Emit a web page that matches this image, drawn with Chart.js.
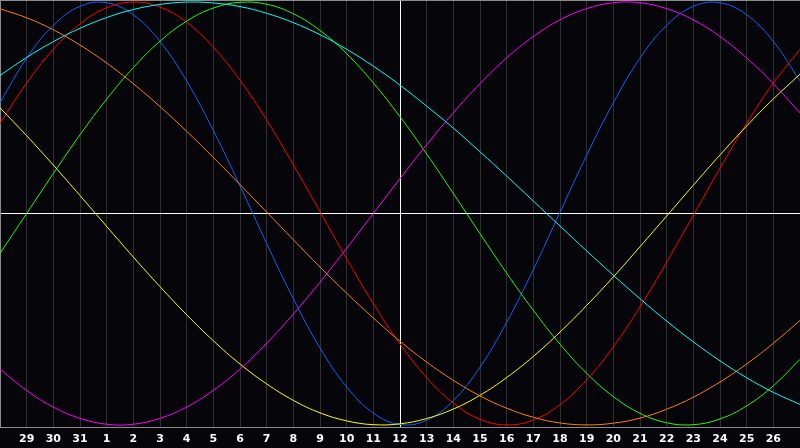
<!DOCTYPE html>
<html>
<head>
<meta charset="utf-8">
<script src="https://cdn.jsdelivr.net/npm/chart.js@4/dist/chart.umd.min.js"></script>
<style>
    html, body { margin: 0; padding: 0; background: #060509; }
    #wrap { width: 800px; height: 448px; }
</style>
</head>
<body>
<div id="wrap"><canvas id="bioChart"></canvas></div>
<script>
// day labels, first and last are not printed
var Days = ['28', '29', '30', '31', '1', '2', '3', '4', '5', '6', '7', '8', '9', '10', '11', '12',
    '13', '14', '15', '16', '17', '18', '19', '20', '21', '22', '23', '24', '25', '26', '27'];

var Physical = [0.524, 0.735, 0.890, 0.980, 0.997, 0.940, 0.814, 0.627, 0.393, 0.131, -0.142, -0.403, -0.636, -0.820, -0.944, -0.998,
    -0.978, -0.885, -0.727, -0.515, -0.265, 0.006, 0.275, 0.524, 0.735, 0.890, 0.980, 0.997, 0.940, 0.814, 0.627];
var Emotional = [0.426, 0.617, 0.776, 0.897, 0.973, 1.000, 0.977, 0.905, 0.787, 0.631, 0.442, 0.231, 0.009, -0.214, -0.426, -0.617,
    -0.776, -0.897, -0.973, -1.000, -0.977, -0.905, -0.787, -0.631, -0.442, -0.231, -0.009, 0.214, 0.426, 0.617, 0.776];
var Intellectual = [-0.189, 0.000, 0.189, 0.372, 0.541, 0.690, 0.815, 0.910, 0.972, 0.999, 0.990, 0.945, 0.866, 0.756, 0.618, 0.458,
    0.282, 0.095, -0.095, -0.282, -0.458, -0.618, -0.756, -0.866, -0.945, -0.990, -0.999, -0.972, -0.910, -0.815, -0.690];
var Intuitive = [-0.736, -0.837, -0.916, -0.969, -0.997, -0.997, -0.969, -0.916, -0.837, -0.736, -0.614, -0.476, -0.325, -0.165, 0.000, 0.165,
    0.325, 0.476, 0.614, 0.736, 0.837, 0.916, 0.969, 0.997, 0.997, 0.969, 0.916, 0.837, 0.736, 0.614, 0.476];
var Aesthetic = [0.500, 0.368, 0.229, 0.085, -0.061, -0.206, -0.346, -0.479, -0.602, -0.712, -0.806, -0.884, -0.943, -0.981, -0.999, -0.995,
    -0.970, -0.925, -0.860, -0.776, -0.676, -0.561, -0.435, -0.300, -0.157, -0.012, 0.134, 0.277, 0.414, 0.542, 0.659];
var Awareness = [0.968, 0.926, 0.869, 0.797, 0.712, 0.614, 0.506, 0.389, 0.265, 0.137, 0.007, -0.124, -0.253, -0.377, -0.494, -0.604,
    -0.703, -0.789, -0.863, -0.921, -0.964, -0.991, -1.000, -0.992, -0.968, -0.926, -0.869, -0.797, -0.712, -0.614, -0.506];
var Spiritual = [0.653, 0.738, 0.813, 0.876, 0.927, 0.965, 0.989, 1.000, 0.996, 0.979, 0.947, 0.903, 0.846, 0.777, 0.697, 0.607,
    0.508, 0.404, 0.292, 0.177, 0.059, -0.059, -0.177, -0.292, -0.403, -0.509, -0.607, -0.697, -0.777, -0.846, -0.903];

var YMin = -1.01;
var YMax = 1.01;

function series(data, color) {
    return {
        data: data,
        borderColor: color,
        borderWidth: 1,
        pointRadius: 0,
        fill: false,
        tension: 0.4
    };
}

var ctx = document.getElementById('bioChart').getContext('2d');
var bioChart = new Chart(ctx, {
    type: 'line',
    data: {
        labels: Days,
        datasets: [
            series(Spiritual, '#00ffff'),
            series(Awareness, '#ff8000'),
            series(Aesthetic, '#ffff00'),
            series(Intuitive, '#ff00ff'),
            series(Intellectual, '#20ff00'),
            series(Emotional, '#ff0000'),
            series(Physical, '#0a64ff')
        ]
    },
    options: {
        responsive: true,
        maintainAspectRatio: false,
        animation: false,
        layout: { padding: 0 },
        plugins: {
            legend: { display: false },
            tooltip: { enabled: false }
        },
        scales: {
            x: {
                offset: false,
                afterFit: function (axis) {
                    // leave 21px under the plot for the day numbers
                    axis.height = 21;
                },
                grid: {
                    drawTicks: false,
                    color: function (c) { return c.index === 15 ? '#ffffff' : '#303033'; }
                },
                border: { display: true, color: '#8c8c8c' },
                ticks: {
                    autoSkip: false,
                    maxRotation: 0,
                    padding: 0,
                    color: '#ffffff',
                    font: { family: 'DejaVu Sans', size: 11, weight: 'bold', lineHeight: 2.2 },
                    callback: function (value, index) {
                        if (index === 0 || index === Days.length - 1) return '';
                        return Days[index];
                    }
                }
            },
            y: {
                min: YMin,
                max: YMax,
                afterBuildTicks: function (axis) {
                    axis.ticks = [{ value: YMin }, { value: 0 }, { value: YMax }];
                },
                grid: {
                    drawTicks: false,
                    color: function (c) { return c.tick && c.tick.value === 0 ? '#ffffff' : '#8c8c8c'; }
                },
                border: { display: true, color: '#8c8c8c' },
                ticks: { display: false }
            }
        }
    }
});
</script>
</body>
</html>
